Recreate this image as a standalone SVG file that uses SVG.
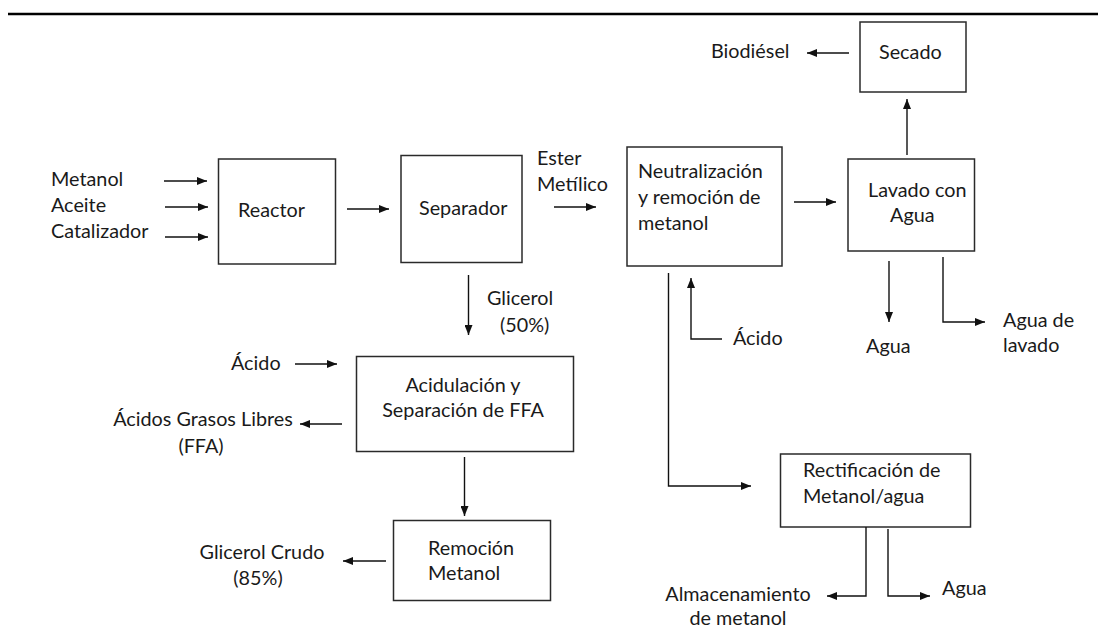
<svg xmlns="http://www.w3.org/2000/svg" width="1098" height="636" viewBox="0 0 1098 636">
<style>
text{font-family:Lato,"Liberation Sans",sans-serif;font-size:19.8px;fill:#1a1a1a}
.box{fill:#fff;stroke:#2a2a2a;stroke-width:1.5}
.ln{fill:none;stroke:#111;stroke-width:1.4}
.ar{fill:none;stroke:#111;stroke-width:1.4;marker-end:url(#ah)}
.mid{text-anchor:middle}
</style>
<defs>
<marker id="ah" viewBox="0 0 10 8" refX="10" refY="4" markerWidth="10" markerHeight="8" markerUnits="userSpaceOnUse" orient="auto">
<path d="M0,0 L10,4 L0,8 z" fill="#111"/>
</marker>
</defs>
<rect width="1098" height="636" fill="#fff"/>
<line x1="8" y1="14" x2="1098" y2="14" stroke="#000" stroke-width="2.5"/>

<g id="inputs">
<text x="51" y="186">Metanol</text>
<text x="51" y="212">Aceite</text>
<text x="51" y="238">Catalizador</text>
</g>

<g id="reactor">
<rect class="box" x="218.5" y="159" width="117" height="105"/>
<text x="238" y="217">Reactor</text>
</g>

<g id="separador">
<rect class="box" x="401" y="155.5" width="121" height="107"/>
<text x="419" y="215">Separador</text>
</g>

<g id="ester">
<text x="537" y="165">Ester</text>
<text x="537" y="191">Metílico</text>
</g>

<g id="neutralizacion">
<rect class="box" x="627" y="147" width="155" height="119"/>
<text x="638" y="178">Neutralización</text>
<text x="638" y="204">y remoción de</text>
<text x="638" y="230">metanol</text>
</g>

<g id="lavado">
<rect class="box" x="848" y="159" width="126.5" height="92"/>
<text x="868" y="197">Lavado con</text>
<text x="890" y="222">Agua</text>
</g>

<g id="secado">
<rect class="box" x="860" y="22" width="106" height="70"/>
<text x="879" y="59">Secado</text>
</g>

<g id="biodiesel">
<text x="711" y="58">Biodiésel</text>
</g>

<g id="agua1">
<text x="866" y="353">Agua</text>
</g>

<g id="agua-lavado">
<text x="1003" y="327">Agua de</text>
<text x="1003" y="352">lavado</text>
</g>

<g id="acido1">
<text x="733" y="345">Ácido</text>
</g>

<g id="glicerol50">
<text x="487" y="305">Glicerol</text>
<text x="500" y="332">(50%)</text>
</g>

<g id="acido2">
<text x="231" y="370">Ácido</text>
</g>

<g id="acidulacion">
<rect class="box" x="356.5" y="356.5" width="217" height="95"/>
<text class="mid" x="463" y="392">Acidulación y</text>
<text class="mid" x="463" y="417">Separación de FFA</text>
</g>

<g id="ffa">
<text class="mid" x="203" y="426">Ácidos Grasos Libres</text>
<text class="mid" x="201" y="453">(FFA)</text>
</g>

<g id="remocion">
<rect class="box" x="393.5" y="520.5" width="157" height="80"/>
<text x="428" y="555">Remoción</text>
<text x="428" y="580">Metanol</text>
</g>

<g id="glicerol-crudo">
<text class="mid" x="262" y="559">Glicerol Crudo</text>
<text class="mid" x="258" y="585">(85%)</text>
</g>

<g id="rectificacion">
<rect class="box" x="780.5" y="454" width="190" height="73"/>
<text x="803" y="477">Rectificación de</text>
<text x="803" y="503">Metanol/agua</text>
</g>

<g id="almacenamiento">
<text class="mid" x="738" y="601">Almacenamiento</text>
<text class="mid" x="738" y="625">de metanol</text>
</g>

<g id="agua2">
<text x="942" y="595">Agua</text>
</g>

<g id="connectors">
<line class="ar" x1="164" y1="181" x2="207" y2="181"/>
<line class="ar" x1="165" y1="207" x2="208" y2="207"/>
<line class="ar" x1="165" y1="237" x2="208" y2="237"/>
<line class="ar" x1="347" y1="209" x2="389" y2="209"/>
<line class="ar" x1="554" y1="207" x2="596" y2="207"/>
<line class="ar" x1="794" y1="202" x2="836" y2="202"/>
<line class="ar" x1="907" y1="155" x2="907" y2="99"/>
<line class="ar" x1="849" y1="53" x2="807" y2="53"/>
<line class="ar" x1="889" y1="261" x2="889" y2="322"/>
<polyline class="ar" points="943,257 943,322 985,322"/>
<polyline class="ar" points="722,339 691,339 691,278"/>
<polyline class="ar" points="668.5,273 668.5,486 751,486"/>
<line class="ar" x1="468.5" y1="275" x2="468.5" y2="335"/>
<line class="ar" x1="295" y1="364" x2="337" y2="364"/>
<line class="ar" x1="342" y1="424" x2="300" y2="424"/>
<line class="ar" x1="464.5" y1="457" x2="464.5" y2="516"/>
<line class="ar" x1="386" y1="561" x2="343" y2="561"/>
<polyline class="ar" points="866,527 866,596 827,596"/>
<polyline class="ar" points="888,529 888,596 930,596"/>
</g>
</svg>
